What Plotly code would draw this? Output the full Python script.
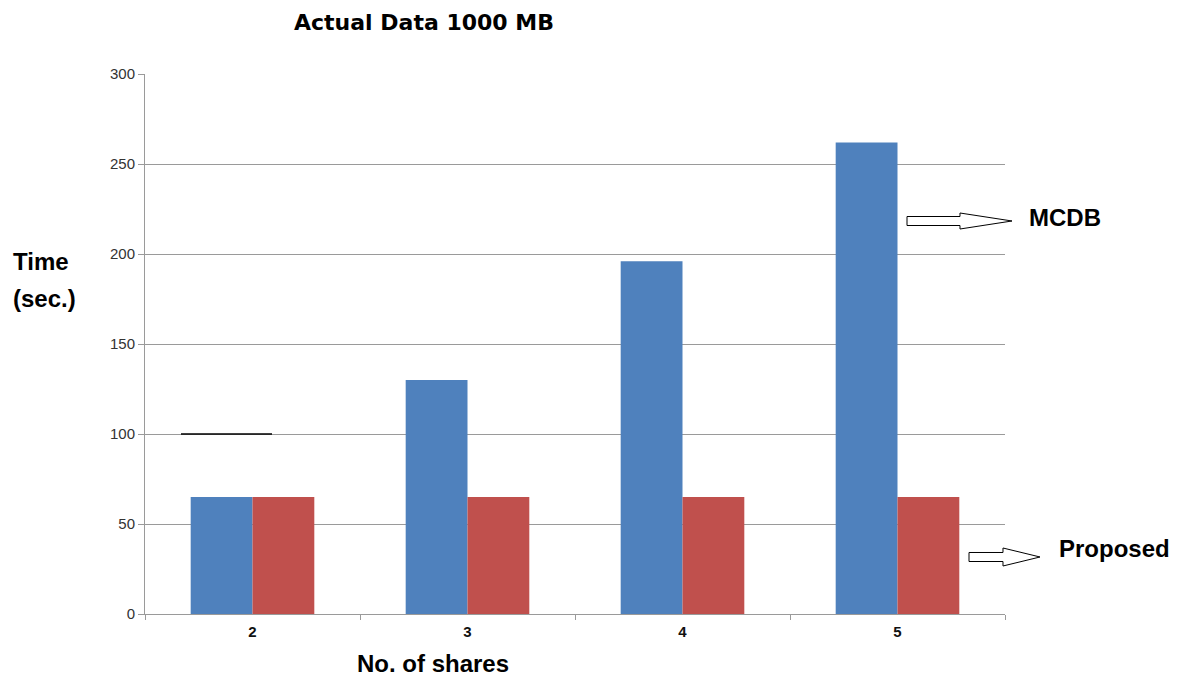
import plotly.graph_objects as go

# ---- data ----
shares = ["2", "3", "4", "5"]
mcdb = [65, 130, 196, 262]
proposed = [65, 65, 65, 65]
y_ticks = [0, 50, 100, 150, 200, 250, 300]
title_text = "Actual Data 1000 MB"
x_title = "No. of shares"
y_title_lines = ["Time", "(sec.)"]
series_names = ["MCDB", "Proposed"]

OFF = 8  # page body margin
W, H = 1182 - 2 * OFF, 688 - 2 * OFF
L, T = 145 - OFF, 74 - OFF
PW, PH = 860, 540
R, B = W - L - PW, H - T - PH


def px(x):  # page pixel -> paper
    return (x - OFF - L) / PW


def py(y):
    return (T + PH - (y - OFF)) / PH


fig = go.Figure()
fig.add_trace(go.Bar(x=shares, y=mcdb, name=series_names[0], marker=dict(color="#4F81BD", line=dict(width=0))))
fig.add_trace(go.Bar(x=shares, y=proposed, name=series_names[1], marker=dict(color="#C0504D", line=dict(width=0))))

grey = "#9a9a9a"
fig.update_layout(
    width=W, height=H,
    margin=dict(l=L, r=R, t=T, b=B, pad=0),
    paper_bgcolor="white", plot_bgcolor="white",
    showlegend=False,
    barmode="group", bargap=0.425, bargroupgap=0,
    font=dict(family="Liberation Sans, Arial, sans-serif", color="#222"),
)
fig.update_xaxes(
    type="category", tickson="boundaries", ticks="outside", ticklen=5, tickcolor=grey,
    showline=True, linecolor=grey, linewidth=1, showgrid=False,
    ticklabelstandoff=4,
    tickfont=dict(size=15, color="#111", weight="bold"),
)
fig.update_yaxes(
    range=[0, 300], tickvals=y_ticks, ticks="outside", ticklen=6, tickcolor=grey,
    showline=True, linecolor=grey, linewidth=1,
    showgrid=True, gridcolor=grey, gridwidth=1, zeroline=False,
    tickfont=dict(size=15, color="#333"),
)

# stray short black line at 100
fig.add_shape(type="line", xref="paper", yref="y", x0=px(181), x1=px(272), y0=100, y1=100,
              line=dict(color="black", width=1.5))


def arrow(x0, x1, xh, yc, sh, hh):
    pts = [(x0, yc - sh), (xh, yc - sh), (xh, yc - hh), (x1, yc), (xh, yc + hh), (xh, yc + sh), (x0, yc + sh)]
    path = "M " + " L ".join(f"{px(a):.5f},{py(b):.5f}" for a, b in pts) + " Z"
    fig.add_shape(type="path", xref="paper", yref="paper", path=path,
                  fillcolor="white", line=dict(color="black", width=1))


arrow(907, 1012, 960, 221, 4.5, 8)
arrow(969, 1040, 1003, 557, 4.5, 9)

bold = dict(family="Liberation Sans, Arial, sans-serif", size=24, color="black", weight="bold")
ann = [
    dict(text=title_text, x=px(424), y=py(23), xanchor="center", yanchor="middle",
         font=dict(family="DejaVu Sans, sans-serif", size=22, color="black", weight="bold")),
    dict(text=y_title_lines[0], x=px(11), y=py(262), xanchor="left", yanchor="middle", font=bold),
    dict(text=y_title_lines[1], x=px(11), y=py(298), xanchor="left", yanchor="middle", font=bold),
    dict(text=x_title, x=px(433), y=py(663), xanchor="center", yanchor="middle", font=bold),
    dict(text=series_names[0], x=px(1027), y=py(217), xanchor="left", yanchor="middle", font=bold),
    dict(text=series_names[1], x=px(1057), y=py(548), xanchor="left", yanchor="middle", font=bold),
]
for a in ann:
    fig.add_annotation(xref="paper", yref="paper", showarrow=False, **a)

fig.write_html("out.html")
